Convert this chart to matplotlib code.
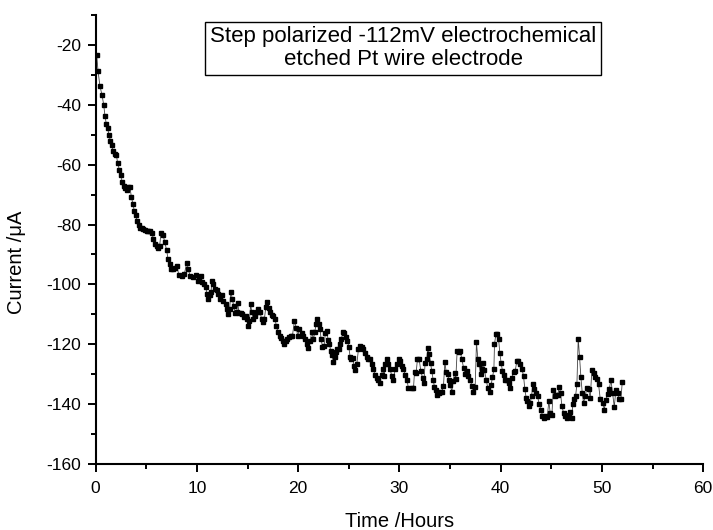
import matplotlib
matplotlib.use("Agg")
import matplotlib.pyplot as plt
from matplotlib.ticker import MultipleLocator

plt.rcParams['font.family'] = ['Liberation Sans', 'DejaVu Sans']
plt.rcParams['axes.unicode_minus'] = False

# time (hours) and current (uA)
time_h = [
    0.10, 0.23, 0.42, 0.62, 0.79, 0.92, 1.05, 1.18, 1.31, 1.45, 1.58, 1.71, 1.87, 2.04,
    2.17, 2.34, 2.47, 2.63, 2.76, 2.93, 3.09, 3.22, 3.39, 3.52, 3.69, 3.82, 3.95, 4.11,
    4.25, 4.38, 4.54, 4.71, 4.87, 5.04, 5.20, 5.37, 5.56, 5.69, 5.86, 6.02, 6.19, 6.32,
    6.45, 6.65, 6.82, 7.01, 7.14, 7.31, 7.47, 7.67, 7.84, 8.00, 8.23, 8.50, 8.76, 8.99,
    9.15, 9.32, 9.65, 9.91, 10.08, 10.24, 10.40, 10.54, 10.70, 10.87, 11.00, 11.13, 11.26,
    11.40, 11.46, 11.63, 11.79, 11.95, 12.12, 12.28, 12.45, 12.61, 12.84, 12.94, 13.10,
    13.24, 13.34, 13.50, 13.64, 13.77, 13.93, 14.03, 14.16, 14.33, 14.49, 14.69, 14.82,
    14.95, 15.08, 15.18, 15.31, 15.41, 15.58, 15.74, 15.91, 16.07, 16.23, 16.40, 16.56,
    16.66, 16.80, 16.96, 17.13, 17.26, 17.42, 17.55, 17.72, 17.85, 18.01, 18.18, 18.34,
    18.51, 18.64, 18.77, 18.94, 19.10, 19.27, 19.43, 19.63, 19.80, 19.96, 20.12, 20.35,
    20.52, 20.68, 20.85, 21.01, 21.18, 21.34, 21.50, 21.64, 21.77, 21.90, 22.04, 22.17,
    22.26, 22.40, 22.56, 22.69, 22.83, 22.96, 23.09, 23.22, 23.35, 23.48, 23.62, 23.75,
    23.88, 24.01, 24.14, 24.27, 24.40, 24.57, 24.73, 24.87, 25.00, 25.13, 25.26, 25.39,
    25.52, 25.66, 25.79, 25.95, 26.12, 26.28, 26.45, 26.61, 26.78, 26.94, 27.11, 27.27,
    27.43, 27.60, 27.77, 27.93, 28.10, 28.23, 28.36, 28.49, 28.62, 28.79, 28.92, 29.08,
    29.25, 29.41, 29.58, 29.74, 29.91, 30.07, 30.24, 30.40, 30.56, 30.73, 30.89, 31.22,
    31.39, 31.49, 31.65, 31.78, 31.95, 32.11, 32.28, 32.41, 32.54, 32.71, 32.81, 32.94,
    33.07, 33.20, 33.33, 33.46, 33.60, 33.73, 33.86, 34.02, 34.19, 34.35, 34.49, 34.62,
    34.75, 34.88, 35.01, 35.18, 35.31, 35.44, 35.57, 35.70, 35.87, 36.00, 36.17, 36.33,
    36.49, 36.66, 36.82, 36.99, 37.15, 37.31, 37.48, 37.61, 37.75, 37.88, 38.01, 38.14,
    38.27, 38.40, 38.57, 38.73, 38.90, 39.06, 39.19, 39.33, 39.39, 39.53, 39.66, 39.79,
    39.92, 40.05, 40.18, 40.32, 40.45, 40.60, 40.80, 40.94, 41.10, 41.27, 41.43, 41.60,
    41.76, 41.93, 42.09, 42.26, 42.39, 42.52, 42.65, 42.79, 42.92, 43.05, 43.18, 43.31,
    43.48, 43.64, 43.81, 43.97, 44.13, 44.30, 44.43, 44.60, 44.76, 44.89, 45.06, 45.19,
    45.32, 45.49, 45.65, 45.78, 45.91, 46.05, 46.21, 46.38, 46.54, 46.70, 46.87, 47.00,
    47.13, 47.27, 47.40, 47.53, 47.66, 47.79, 47.92, 48.06, 48.19, 48.35, 48.52, 48.68,
    48.85, 49.01, 49.17, 49.34, 49.51, 49.67, 49.83, 50.10, 50.23, 50.40, 50.56, 50.72,
    50.89, 51.05, 51.22, 51.38, 51.55, 51.71, 51.88, 52.01,
]
current_ua = [
    -23.3, -28.7, -33.7, -36.7, -39.9, -43.8, -46.4, -47.7, -50.0, -52.0, -53.3, -55.6, -56.5, -56.7,
    -59.5, -61.7, -63.6, -65.9, -67.0, -67.7, -68.5, -67.3, -67.6, -70.7, -73.3, -75.5, -76.9, -78.9,
    -80.2, -81.0, -81.3, -81.6, -81.8, -82.0, -82.3, -82.3, -82.7, -84.7, -86.4, -87.2, -87.8, -87.1,
    -82.7, -83.4, -85.8, -88.6, -91.4, -93.1, -94.8, -94.9, -94.6, -93.7, -97.0, -97.3, -96.5, -92.8,
    -94.8, -97.3, -97.6, -97.0, -98.7, -97.6, -97.2, -99.3, -99.8, -100.9, -103.2, -104.9, -103.5,
    -102.4, -99.0, -99.8, -101.7, -102.0, -103.2, -104.9, -103.5, -105.4, -106.6, -108.2, -109.9,
    -108.2, -102.4, -104.9, -107.3, -109.7, -109.3, -106.2, -109.7, -109.7, -109.9, -111.0, -110.4,
    -111.6, -113.8, -112.2, -106.6, -109.3, -111.6, -110.4, -109.3, -108.2, -109.3, -111.6, -112.7,
    -111.6, -107.7, -105.8, -108.0, -109.3, -110.2, -110.4, -111.6, -114.0, -116.0, -117.2, -118.0,
    -118.9, -120.0, -118.9, -118.3, -117.7, -117.4, -117.2, -112.2, -114.4, -117.2, -115.0, -116.1,
    -117.2, -118.3, -120.0, -121.1, -118.9, -115.9, -118.3, -115.9, -113.3, -111.6, -113.3, -115.0,
    -118.3, -120.8, -120.5, -116.1, -115.7, -118.5, -120.0, -122.3, -123.7, -126.0, -124.2, -122.6,
    -121.7, -121.5, -120.0, -118.3, -115.9, -116.1, -117.7, -118.9, -120.8, -124.2, -125.0, -124.5,
    -127.3, -128.6, -126.7, -121.7, -120.5, -120.8, -121.7, -122.8, -124.2, -125.0, -124.8, -126.7,
    -128.4, -130.4, -131.2, -131.8, -132.9, -130.1, -128.4, -130.6, -126.7, -124.8, -126.7, -128.4,
    -130.6, -131.8, -128.4, -126.7, -124.8, -125.6, -127.3, -128.4, -130.1, -131.8, -134.6, -134.6,
    -134.6, -129.3, -129.5, -125.0, -125.0, -128.9, -131.2, -132.9, -126.2, -124.8, -121.1, -123.4,
    -126.2, -128.9, -131.8, -134.2, -135.4, -136.8, -136.3, -136.1, -135.8, -133.9, -126.0, -129.3,
    -129.8, -131.8, -133.5, -135.8, -132.3, -129.5, -131.5, -122.2, -122.5, -122.4, -125.0, -127.8,
    -130.0, -128.9, -130.6, -131.8, -133.9, -135.8, -134.4, -119.4, -125.0, -126.7, -130.0, -128.4,
    -126.2, -128.7, -131.8, -134.6, -136.1, -133.5, -131.0, -128.4, -120.0, -116.6, -116.6, -118.1,
    -123.0, -126.4, -128.9, -130.4, -131.8, -131.8, -132.9, -134.6, -131.2, -129.3, -129.0, -125.6,
    -125.6, -126.7, -128.1, -130.6, -135.1, -137.9, -139.0, -140.7, -139.6, -137.3, -133.4, -135.1,
    -136.2, -137.3, -140.1, -141.8, -143.8, -144.6, -144.1, -144.3, -139.0, -142.9, -143.5, -135.3,
    -137.3, -136.8, -136.8, -134.2, -136.2, -140.7, -142.9, -143.8, -144.6, -143.5, -142.7, -144.6,
    -140.1, -138.2, -137.3, -133.4, -118.1, -124.1, -130.8, -136.4, -139.6, -137.3, -134.6, -135.1,
    -137.9, -128.5, -129.6, -130.8, -131.7, -133.4, -138.2, -139.6, -141.8, -138.5, -136.7, -135.1,
    -131.9, -136.2, -140.9, -135.3, -136.2, -138.2, -138.2, -132.6,
]

annotation = "Step polarized -112mV electrochemical\netched Pt wire electrode"

fig = plt.figure(figsize=(7.13, 5.30), dpi=100)
ax = fig.add_axes([0.1342, 0.1245, 0.852, 0.8472])

ax.plot(time_h, current_ua, color='#444444', lw=0.6,
        marker='s', ms=2.6, mfc='black', mec='black')

ax.set_xlim(0, 60)
ax.set_ylim(-160, -10)
ax.xaxis.set_major_locator(MultipleLocator(10))
ax.xaxis.set_minor_locator(MultipleLocator(5))
ax.set_yticks(range(-160, -19, 20))
ax.yaxis.set_minor_locator(MultipleLocator(10))

for s in ['top', 'right']:
    ax.spines[s].set_visible(False)
for s in ['left', 'bottom']:
    ax.spines[s].set_linewidth(1.5)

ax.tick_params(which='major', direction='out', length=6, width=1.4, labelsize=12.5, pad=4.5)
ax.tick_params(axis='x', which='major', pad=6)
ax.tick_params(which='minor', direction='out', length=3.5, width=1.4)

ax.set_xlabel('Time /Hours', fontsize=14.5, labelpad=12)
ax.set_ylabel('Current /\u03bcA', fontsize=14.5, labelpad=12)
ax.yaxis.set_label_coords(-0.115, 0.45)

ax.text(0.506, 0.926, annotation, transform=ax.transAxes, ha='center', va='center',
        multialignment='center', fontsize=16, linespacing=1.1,
        bbox=dict(boxstyle='square,pad=0.22', fc='white', ec='black', lw=1.0))

fig.savefig('out.png', dpi=100)
